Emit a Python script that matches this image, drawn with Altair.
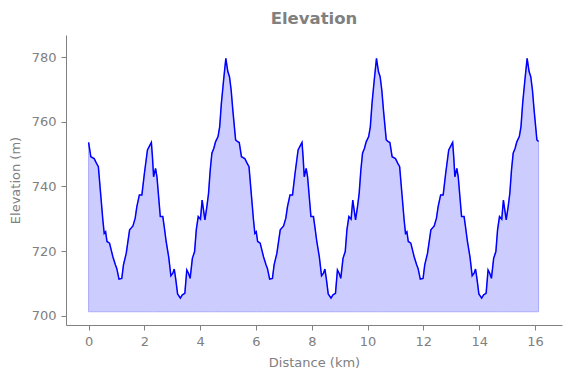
import altair as alt
import pandas as pd

# Lap 1
dist_lap1 = [0.00, 0.08, 0.20, 0.28, 0.35, 0.44, 0.51, 0.56, 0.61, 0.66,
             0.75, 0.87, 0.96, 1.01, 1.09, 1.19, 1.25, 1.35, 1.47, 1.59,
             1.67, 1.73, 1.82, 1.91, 2.00, 2.11, 2.19, 2.25, 2.29, 2.33,
             2.40, 2.45, 2.57, 2.66, 2.71, 2.78, 2.87, 2.95, 3.02, 3.07,
             3.12, 3.19, 3.29, 3.36, 3.45, 3.52, 3.58, 3.64, 3.72, 3.80,
             3.86, 3.93, 4.01, 4.07, 4.12, 4.17, 4.24, 4.30, 4.36, 4.42,
             4.49, 4.55, 4.64, 4.70, 4.76, 4.84, 4.92, 4.99, 5.05, 5.11,
             5.17, 5.27, 5.33]
elev_lap1 = [753.6, 749.2, 748.6, 747.2, 746.1, 736.9, 729.7, 725.5, 726.0, 723.0,
             722.5, 718.3, 715.8, 714.7, 711.4, 711.6, 715.8, 719.4, 726.6, 727.8,
             730.2, 733.8, 737.4, 737.4, 744.0, 751.3, 752.6, 753.6, 749.0, 743.0,
             745.6, 743.0, 730.7, 730.7, 727.6, 723.0, 718.3, 712.4, 713.2, 714.5,
             711.6, 706.8, 705.5, 706.5, 707.0, 714.2, 713.2, 711.6, 717.8, 719.9,
             726.6, 730.7, 729.9, 735.8, 732.7, 729.7, 733.8, 737.9, 745.1, 750.3,
             751.8, 753.8, 755.4, 758.5, 765.7, 772.9, 779.6, 775.5, 773.9, 769.8,
             763.6, 754.4, 753.9]

# Lap 2
dist_lap2 = [5.40, 5.48, 5.60, 5.68, 5.75, 5.84, 5.91, 5.96, 6.01, 6.06,
             6.15, 6.27, 6.36, 6.41, 6.49, 6.59, 6.65, 6.75, 6.87, 6.99,
             7.07, 7.13, 7.22, 7.31, 7.40, 7.51, 7.59, 7.65, 7.69, 7.73,
             7.80, 7.85, 7.97, 8.06, 8.11, 8.18, 8.27, 8.35, 8.42, 8.47,
             8.52, 8.59, 8.69, 8.76, 8.85, 8.92, 8.98, 9.04, 9.12, 9.20,
             9.26, 9.33, 9.41, 9.47, 9.52, 9.57, 9.64, 9.70, 9.76, 9.82,
             9.89, 9.95, 10.04, 10.10, 10.16, 10.24, 10.32, 10.39, 10.45, 10.51,
             10.57, 10.67, 10.73]
elev_lap2 = [753.6, 749.2, 748.6, 747.2, 746.1, 736.9, 729.7, 725.5, 726.0, 723.0,
             722.5, 718.3, 715.8, 714.7, 711.4, 711.6, 715.8, 719.4, 726.6, 727.8,
             730.2, 733.8, 737.4, 737.4, 744.0, 751.3, 752.6, 753.6, 749.0, 743.0,
             745.6, 743.0, 730.7, 730.7, 727.6, 723.0, 718.3, 712.4, 713.2, 714.5,
             711.6, 706.8, 705.5, 706.5, 707.0, 714.2, 713.2, 711.6, 717.8, 719.9,
             726.6, 730.7, 729.9, 735.8, 732.7, 729.7, 733.8, 737.9, 745.1, 750.3,
             751.8, 753.8, 755.4, 758.5, 765.7, 772.9, 779.6, 775.5, 773.9, 769.8,
             763.6, 754.4, 753.9]

# Lap 3
dist_lap3 = [10.80, 10.88, 11.00, 11.08, 11.15, 11.24, 11.31, 11.36, 11.41, 11.46,
             11.55, 11.67, 11.76, 11.81, 11.89, 11.99, 12.05, 12.15, 12.27, 12.39,
             12.47, 12.53, 12.62, 12.71, 12.80, 12.91, 12.99, 13.05, 13.09, 13.13,
             13.20, 13.25, 13.37, 13.46, 13.51, 13.58, 13.67, 13.75, 13.82, 13.87,
             13.92, 13.99, 14.09, 14.16, 14.25, 14.32, 14.38, 14.44, 14.52, 14.60,
             14.66, 14.73, 14.81, 14.87, 14.92, 14.97, 15.04, 15.10, 15.16, 15.22,
             15.29, 15.35, 15.44, 15.50, 15.56, 15.64, 15.72, 15.79, 15.85, 15.91,
             15.97, 16.07, 16.13]
elev_lap3 = [753.6, 749.2, 748.6, 747.2, 746.1, 736.9, 729.7, 725.5, 726.0, 723.0,
             722.5, 718.3, 715.8, 714.7, 711.4, 711.6, 715.8, 719.4, 726.6, 727.8,
             730.2, 733.8, 737.4, 737.4, 744.0, 751.3, 752.6, 753.6, 749.0, 743.0,
             745.6, 743.0, 730.7, 730.7, 727.6, 723.0, 718.3, 712.4, 713.2, 714.5,
             711.6, 706.8, 705.5, 706.5, 707.0, 714.2, 713.2, 711.6, 717.8, 719.9,
             726.6, 730.7, 729.9, 735.8, 732.7, 729.7, 733.8, 737.9, 745.1, 750.3,
             751.8, 753.8, 755.4, 758.5, 765.7, 772.9, 779.6, 775.5, 773.9, 769.8,
             763.6, 754.4, 753.9]

fill_base = 701.3
x_ticks = [0, 2, 4, 6, 8, 10, 12, 14, 16]
y_ticks = [700, 720, 740, 760, 780]

df = pd.DataFrame({
    "Distance": dist_lap1 + dist_lap2 + dist_lap3,
    "Elevation": elev_lap1 + elev_lap2 + elev_lap3,
})
df["Base"] = fill_base

x_enc = alt.X("Distance:Q",
              scale=alt.Scale(domain=[-0.81, 16.97], nice=False, zero=False),
              axis=alt.Axis(values=x_ticks, title="Distance (km)", format="d",
                            labelPadding=5, titlePadding=8))
y_enc = alt.Y("Elevation:Q",
              scale=alt.Scale(domain=[697.2, 786.8], nice=False, zero=False),
              axis=alt.Axis(values=y_ticks, title="Elevation (m)", format="d",
                            labelPadding=5, titlePadding=9))

area = alt.Chart(df).mark_area(
    color="#ccccff", opacity=1, stroke="#aaaaff", strokeWidth=1
).encode(x=x_enc, y=y_enc, y2="Base:Q")

line = alt.Chart(df).mark_line(color="#0000ff", strokeWidth=1.5).encode(x=x_enc, y=y_enc)

chart = alt.layer(area, line).properties(
    width=496, height=290,
    title=alt.TitleParams("Elevation", fontSize=16.5, fontWeight="bold", color="#808080",
                          font="DejaVu Sans", offset=8, anchor="middle"),
    autosize=alt.AutoSizeParams(type="none"),
    padding={"left": 58, "top": 27, "right": 1, "bottom": 45},
).configure_view(stroke=None).configure_axis(
    grid=False, domainColor="#808080", tickColor="#808080",
    labelColor="#808080", titleColor="#808080",
    labelFont="DejaVu Sans", titleFont="DejaVu Sans",
    labelFontSize=13, titleFontSize=13, titleFontWeight="normal",
    tickSize=5,
)

chart.save("out.html", embed_options={"renderer": "svg", "actions": False})
